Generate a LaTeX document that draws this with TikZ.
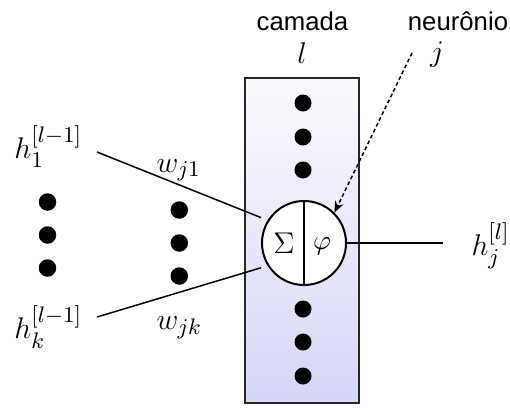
\documentclass[tikz,border=0pt]{standalone}
\usepackage{amsmath,amssymb}
\usepackage{fontspec}
\newfontfamily\labelfont{Liberation Sans}
\usepackage{xcolor}
\usetikzlibrary{arrows.meta,positioning,calc}

\definecolor{layertop}{RGB}{250,250,253}
\definecolor{layerbot}{RGB}{214,214,247}

\begin{document}
\begin{tikzpicture}[
	x=0.4pt, y=-0.4pt,
	math/.style={inner sep=0pt, font=\fontsize{12.4}{15}\selectfont},
	word/.style={inner sep=0pt, font=\labelfont\fontsize{10.3}{12}\selectfont},
	dot/.style={circle, fill=black, inner sep=0pt, minimum size=7pt},
	link/.style={line width=0.6pt}
	]
	
	\useasboundingbox (0,0) rectangle (510,407);
	
	% Layer l (shaded column)
	\shade[top color=layertop, bottom color=layerbot, draw=black!85, line width=0.8pt]
		(245,78) rectangle (359,403);
	
	% Titles
	\node[word, anchor=base] (camada) at (302.5,30) {camada};
	\node[math, anchor=base] (lname) at (302,63) {$l$};
	\node[word, anchor=base] (neuronio) at (458,30) {neurônio};
	\node[math, anchor=base] (jname) at (437,61) {$j$};
	
	% Neurons of layer l
	\foreach \y [count=\i] in {103,137,170,309,342,376}
		\node[dot, minimum size=6.8pt] (r\i) at (303,\y) {};
	
	% Neuron j: sum and activation
	\node[draw, circle, fill=white, line width=0.8pt, minimum size=33.6pt] (neuron) at (304,243) {};
	\draw[line width=0.7pt] (neuron.north) -- (neuron.south);
	\node[math] (sum) at (284,243.7) {$\Sigma$};
	\node[math, font=\fontsize{11}{13}\selectfont] (act) at (322,246.7) {$\varphi$};
	
	% Inputs from layer l-1
	\node[math, anchor=base west] (h1) at (14,158) {$h_1^{[l-1]}$};
	\node[math, anchor=base west] (hk) at (14,338) {$h_k^{[l-1]}$};
	\foreach \y [count=\i] in {202,235,268}
		\node[dot] (hdot\i) at (47.5,\y) {};
	
	% Weights
	\node[math, anchor=base west] (wj1) at (156,172) {$w_{j1}$};
	\node[math, anchor=base west] (wjk) at (156,329) {$w_{jk}$};
	\foreach \y [count=\i] in {210,243,276}
		\node[dot] (wdot\i) at (179.3,\y) {};
	
	% Output
	\node[math, anchor=base west] (hj) at (471,255) {$h_j^{[l]}$};
	
	% Connections
	\coordinate (in1) at (97,152);
	\coordinate (ink) at (97,317);
	\coordinate (out) at (443,243);
	\coordinate (tail) at (412,53);
	
	\draw[link, shorten >=2.8pt] (in1) -- (neuron.148);
	\draw[link, shorten >=2.7pt] (ink) -- (neuron.212);
	\draw[link] (neuron.east) -- (out);
	\draw[link, dash pattern=on 1.5pt off 1.1pt, -{Stealth[length=4.5pt,width=3.6pt]}] (tail) -- (neuron.45);
	
\end{tikzpicture}
\end{document}
